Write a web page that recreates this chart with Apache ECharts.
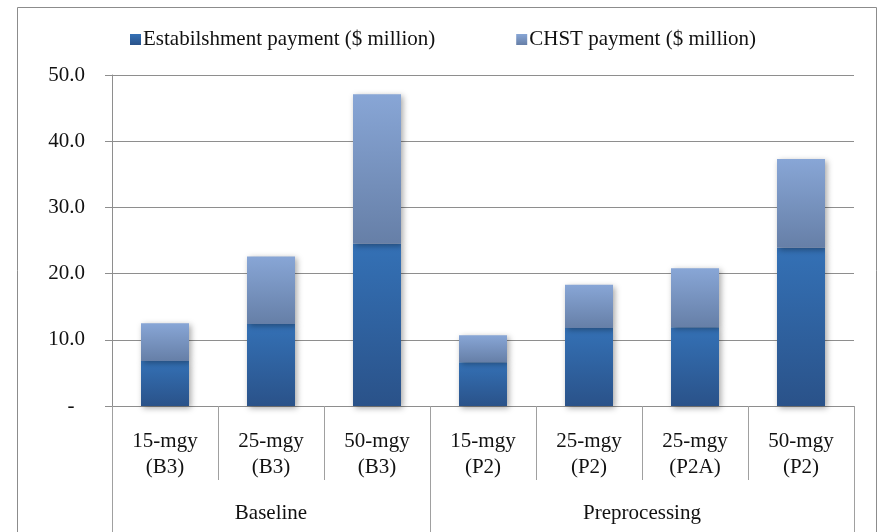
<!DOCTYPE html>
<html>
<head>
<meta charset="utf-8">
<script src="https://cdn.jsdelivr.net/npm/echarts@6/dist/echarts.min.js"></script>
<style>
html,body{margin:0;padding:0;background:#fff;}
#c{width:879px;height:532px;}
</style>
</head>
<body>
<div id="c"></div>
<script>
const categories = ['15-mgy\n(B3)', '25-mgy\n(B3)', '50-mgy\n(B3)', '15-mgy\n(P2)', '25-mgy\n(P2)', '25-mgy\n(P2A)', '50-mgy\n(P2)'];
const groups = ['Baseline', 'Preprocessing'];
const groupSizes = [3, 4];
const establishment = [6.8, 12.4, 24.5, 6.6, 11.8, 11.9, 23.9];
const chst = [5.7, 10.2, 22.6, 4.1, 6.5, 8.9, 13.4];
const yTicks = [0, 10, 20, 30, 40, 50];
const seriesNames = ['Estabilshment payment ($ million)', 'CHST payment ($ million)'];

const FONT = '"Liberation Serif", "Times New Roman", serif';
const gridColor = '#8e8e8e';

// group boundaries and centers on 0..N scale
const bounds = [0];
groupSizes.forEach(s => bounds.push(bounds[bounds.length - 1] + s));
const centers = groups.map((g, i) => (bounds[i] + bounds[i + 1]) / 2);

const estGrad = new echarts.graphic.LinearGradient(0, 0, 0, 1, [
  {offset: 0, color: '#3471b6'}, {offset: 1, color: '#2a5289'}]);
const chstGrad = new echarts.graphic.LinearGradient(0, 0, 0, 1, [
  {offset: 0, color: '#88a6d6'}, {offset: 1, color: '#667fa7'}]);

const chart = echarts.init(document.getElementById('c'), null, {renderer: 'canvas'});
chart.setOption({
  animation: false,
  backgroundColor: '#fff',
  textStyle: {fontFamily: FONT},
  graphic: [{
    type: 'rect', silent: true, z: -1,
    shape: {x: 17.5, y: 7.5, width: 859, height: 600},
    style: {fill: 'none', stroke: '#8c8c8c', lineWidth: 1}
  }],
  legend: {
    left: 125, top: 24,
    itemWidth: 11, itemHeight: 11, itemGap: 81,
    icon: 'rect',
    textStyle: {fontFamily: FONT, fontSize: 21, color: '#111', padding: [0, 0, 0, -3]},
    data: seriesNames
  },
  grid: {left: 112, right: 25, top: 75, bottom: 126, containLabel: false},
  xAxis: [{
    type: 'category',
    data: categories,
    axisLine: {show: true, lineStyle: {color: gridColor}},
    axisTick: {show: true, interval: 0, length: 74, lineStyle: {color: '#a0a0a0'}},
    axisLabel: {interval: 0, fontFamily: FONT, fontSize: 21, color: '#111', lineHeight: 26, margin: 22}
  }, {
    type: 'value',
    min: 0, max: categories.length,
    position: 'bottom',
    axisLine: {show: false},
    splitLine: {show: false},
    axisTick: {show: true, length: 130, customValues: bounds, lineStyle: {color: '#a0a0a0'}},
    axisLabel: {
      customValues: centers, margin: 97, fontFamily: FONT, fontSize: 21, color: '#111',
      formatter: v => { const i = centers.indexOf(v); return i >= 0 ? groups[i] : ''; }
    }
  }],
  yAxis: {
    type: 'value', min: yTicks[0], max: yTicks[yTicks.length - 1], interval: 10,
    axisLine: {show: true, lineStyle: {color: gridColor}},
    axisTick: {show: true, length: 7, lineStyle: {color: gridColor}},
    splitLine: {show: true, lineStyle: {color: gridColor, width: 1}},
    axisLabel: {
      margin: 27, fontFamily: FONT, fontSize: 21, color: '#111',
      formatter: v => v === 0 ? '-  ' : v.toFixed(1)
    }
  },
  series: [{
    name: seriesNames[0],
    type: 'bar', stack: 'total', xAxisIndex: 0,
    barWidth: 48,
    data: establishment,
    itemStyle: {color: estGrad, shadowBlur: 6, shadowColor: 'rgba(0,0,0,0.35)', shadowOffsetX: 2, shadowOffsetY: 2}
  }, {
    name: seriesNames[1],
    type: 'bar', stack: 'total', xAxisIndex: 0,
    barWidth: 48,
    data: chst,
    itemStyle: {color: chstGrad, shadowBlur: 6, shadowColor: 'rgba(0,0,0,0.35)', shadowOffsetX: 2, shadowOffsetY: 2}
  }]
});
</script>
</body>
</html>
